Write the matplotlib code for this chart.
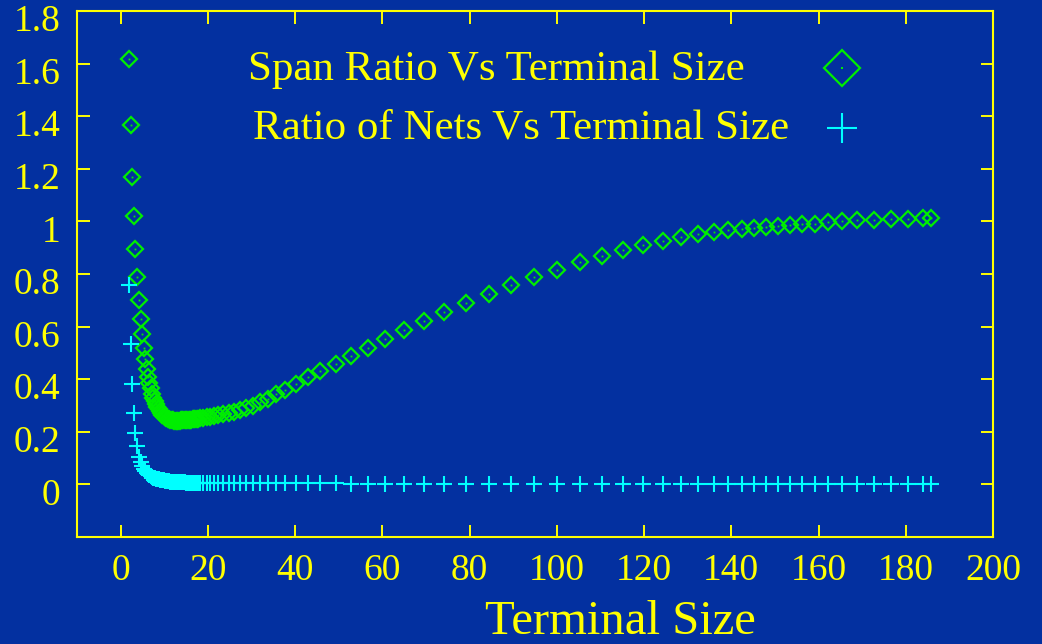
import matplotlib
matplotlib.use("Agg")
import matplotlib.pyplot as plt
import matplotlib.transforms as mtransforms

# Terminal size (x) shared by both series
terminal_size = [
    1.9, 2.3, 2.7, 3.1, 3.4, 3.8, 4.2, 4.6, 4.9, 5.3, 5.7, 6.0, 6.3, 6.6, 6.9,
    7.2, 7.5, 7.8, 8.1, 8.4, 8.7, 9.0, 9.3, 9.6, 9.9, 10.2, 10.5, 10.8, 11.1,
    11.4, 11.7, 12.0, 12.3, 12.6, 12.9, 13.2, 13.5, 13.8, 14.1, 14.4, 14.7,
    15.0, 15.3, 15.6, 15.9, 16.2, 16.5, 16.8, 17.1, 17.4, 17.7, 18.1, 18.9,
    19.7, 20.4, 21.4, 22.3, 23.5, 24.8, 26.1, 27.4, 28.8, 30.3, 32.0, 33.8,
    35.7, 37.8, 40.3, 43.0, 45.7, 49.3, 52.9, 56.7, 60.6, 65.0, 69.6, 74.2,
    79.2, 84.4, 89.6, 94.8, 100.1, 105.3, 110.3, 115.2, 119.8, 124.4, 128.5,
    132.4, 136.0, 139.3, 142.4, 145.3, 148.0, 150.7, 153.4, 156.2, 159.1,
    162.1, 165.4, 168.9, 172.7, 176.7, 180.6, 183.9, 185.9,
]

span_ratio = [
    1.616, 1.365, 1.17, 1.02, 0.895, 0.79, 0.70, 0.63, 0.57, 0.52, 0.475, 0.44,
    0.41, 0.385, 0.365, 0.345, 0.33, 0.317, 0.305, 0.295, 0.286, 0.278, 0.271,
    0.265, 0.26, 0.256, 0.252, 0.249, 0.247, 0.245, 0.244, 0.243, 0.242, 0.242,
    0.242, 0.242, 0.242, 0.243, 0.243, 0.243, 0.244, 0.244, 0.245, 0.245,
    0.246, 0.246, 0.247, 0.247, 0.248, 0.249, 0.250, 0.251, 0.253, 0.255,
    0.257, 0.26, 0.263, 0.267, 0.271, 0.276, 0.282, 0.29, 0.30, 0.312, 0.326,
    0.342, 0.36, 0.381, 0.408, 0.431, 0.457, 0.487, 0.518, 0.551, 0.586,
    0.622, 0.657, 0.691, 0.725, 0.758, 0.788, 0.817, 0.844, 0.869, 0.891,
    0.910, 0.926, 0.939, 0.951, 0.959, 0.966, 0.972, 0.976, 0.980, 0.982,
    0.986, 0.989, 0.991, 0.996, 1.001, 1.004, 1.006, 1.009, 1.011, 1.013, 1.013,
]

nets_ratio = [
    0.757, 0.535, 0.38, 0.273, 0.197, 0.146, 0.106, 0.085, 0.07, 0.058, 0.05,
    0.043, 0.038, 0.034, 0.031, 0.028, 0.026, 0.024, 0.022, 0.020, 0.019,
    0.018, 0.017, 0.016, 0.015, 0.014, 0.013, 0.012, 0.012, 0.011, 0.011,
    0.010, 0.010, 0.010, 0.009, 0.009, 0.009, 0.008, 0.008, 0.008, 0.008,
    0.007, 0.007, 0.007, 0.007, 0.007, 0.006, 0.006, 0.006, 0.006, 0.006,
    0.006, 0.006, 0.005, 0.005, 0.005, 0.005, 0.005, 0.005, 0.004, 0.004,
    0.004, 0.004, 0.004, 0.004, 0.004, 0.004, 0.004, 0.004, 0.004, 0.004,
    0.003, 0.003, 0.003, 0.003, 0.003, 0.003, 0.003, 0.003, 0.003, 0.003,
    0.003, 0.003, 0.003, 0.003, 0.003, 0.003, 0.003, 0.003, 0.003, 0.003,
    0.003, 0.003, 0.003, 0.003, 0.003, 0.003, 0.003, 0.003, 0.003, 0.003,
    0.003, 0.003, 0.003, 0.003, 0.003,
]

x_ticks = [0, 20, 40, 60, 80, 100, 120, 140, 160, 180, 200]
y_ticks = [0, 0.2, 0.4, 0.6, 0.8, 1, 1.2, 1.4, 1.6, 1.8]
x_ticklabels = [str(v) for v in x_ticks]
y_ticklabels = ["0", "0.2", "0.4", "0.6", "0.8", "1", "1.2", "1.4", "1.6", "1.8"]
series_labels = ["Span Ratio Vs Terminal Size", "Ratio of Nets Vs Terminal Size"]

BG = "#0330a0"
YELLOW = "#ffff00"
GREEN = "#00ee00"
CYAN = "#00ffff"

plt.rcParams["font.family"] = ["Liberation Serif", "DejaVu Serif"]

W, H = 1042, 644
fig = plt.figure(figsize=(W / 100, H / 100), dpi=100, facecolor=BG)
ax = fig.add_axes([77 / W, 1 - 537 / H, (993 - 77) / W, (537 - 11) / H])
ax.set_facecolor(BG)

ax.plot(terminal_size, span_ratio, linestyle="none", marker="D", markersize=8,
        markerfacecolor="none", markeredgecolor=GREEN, markeredgewidth=1.6)
ax.plot(terminal_size, span_ratio, linestyle="none", marker="s", markersize=1.3,
        markerfacecolor=GREEN, markeredgecolor=GREEN, markeredgewidth=0)
ax.plot(terminal_size, nets_ratio, linestyle="none", marker="+", markersize=11,
        markeredgecolor=CYAN, markeredgewidth=1.5)

ax.set_xlim(-10, 200)
ax.set_ylim(-0.2, 1.8)
ax.set_xticks(x_ticks)
ax.set_xticklabels(x_ticklabels)
ax.set_yticks(y_ticks)
ax.set_yticklabels(y_ticklabels)

for s in ax.spines.values():
    s.set_color(YELLOW)
    s.set_linewidth(1.5)
ax.tick_params(axis="both", direction="in", length=9, width=1.4, color=YELLOW,
               labelcolor=YELLOW, labelsize=27, pad=12,
               top=True, right=True)

# gnuplot places the y labels slightly below the tick
shift = mtransforms.ScaledTranslation(0, -7 / 100, fig.dpi_scale_trans)
for lbl in ax.get_yticklabels():
    lbl.set_transform(lbl.get_transform() + shift)

fig.text(620 / W, 1 - 622 / H, "Terminal Size", color=YELLOW, fontsize=35,
         ha="center", va="center")

# key (gnuplot style): label text then sample marker
def px(xp, yp):
    return (xp / W, 1 - yp / H)

fig.text(*px(248, 70), series_labels[0], color=YELLOW, fontsize=31,
         ha="left", va="center")
fig.text(*px(253, 128), series_labels[1], color=YELLOW, fontsize=31,
         ha="left", va="center")
fig.lines.append(plt.Line2D([842 / W], [1 - 68 / H], transform=fig.transFigure,
                            linestyle="none", marker="D", markersize=18,
                            markerfacecolor="none", markeredgecolor=GREEN,
                            markeredgewidth=1.6))
fig.lines.append(plt.Line2D([842 / W], [1 - 68 / H], transform=fig.transFigure,
                            linestyle="none", marker="s", markersize=1.5,
                            markerfacecolor=GREEN, markeredgewidth=0))
fig.lines.append(plt.Line2D([842 / W], [1 - 128 / H], transform=fig.transFigure,
                            linestyle="none", marker="+", markersize=22,
                            markeredgecolor=CYAN, markeredgewidth=1.5))

fig.savefig("out.png", dpi=100, facecolor=BG)
